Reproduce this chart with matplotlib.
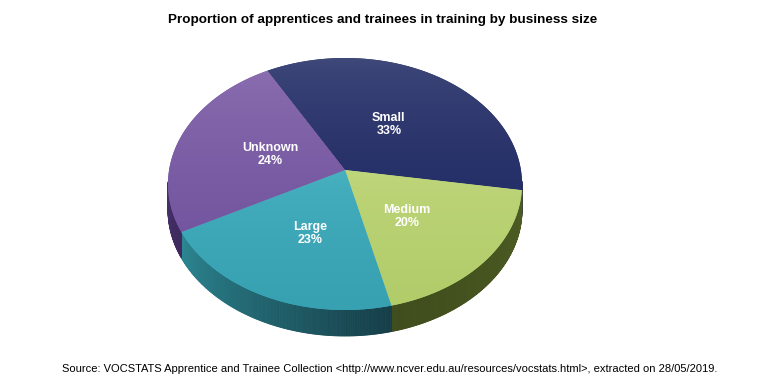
import numpy as np
import matplotlib
matplotlib.use("Agg")
import matplotlib.pyplot as plt
from matplotlib.patches import Polygon
from matplotlib.colors import to_rgb

# ---- data ----
categories = ["Small", "Medium", "Large", "Unknown"]
values = [33, 20, 23, 24]
title = "Proportion of apprentices and trainees in training by business size"
source = ("Source: VOCSTATS Apprentice and Trainee Collection "
          "<http://www.ncver.edu.au/resources/vocstats.html>, extracted on 28/05/2019.")

# ---- style ----
top_light = ["#414b7b", "#c0d77c", "#48b2c1", "#8d70b1"]
top_dark = ["#252f68", "#b2cc6a", "#37a1b2", "#7456a0"]
side_a = ["#1e2550", "#4d5d24", "#143d47", "#3e2a5e"]
side_b = ["#2a3160", "#3f4c1c", "#2c8691", "#5a3f82"]

plt.rcParams['font.family'] = ['Liberation Sans', 'DejaVu Sans']

fig = plt.figure(figsize=(7.7, 3.91), dpi=100)
ax = fig.add_axes([0, 0, 1, 1])
ax.set_xlim(0, 770)
ax.set_ylim(391, 0)
ax.axis('off')

cx, cy, a, b = 345.0, 184.0, 177.0, 126.0
apex = (345.0, 170.0)
depth = 26.0
start = 116.0


def rim(theta_deg, dy=0.0):
    t = np.radians(theta_deg)
    return cx + a * np.cos(t), cy - b * np.sin(t) + dy


def mix(c1, c2, w):
    c1, c2 = np.array(to_rgb(c1)), np.array(to_rgb(c2))
    return tuple(c1 * (1 - w) + c2 * w)


total = float(sum(values))
bounds = []
ang = start
for v in values:
    sweep = 360.0 * v / total
    bounds.append((ang, ang - sweep))
    ang -= sweep

# side walls (front half only)
for i, (t0, t1) in enumerate(bounds):
    ts = np.linspace(t0, t1, 200)
    for j in range(len(ts) - 1):
        ta, tb = ts[j], ts[j + 1]
        tm = 0.5 * (ta + tb)
        if np.sin(np.radians(tm)) >= 0.02:
            continue
        w = (t0 - tm) / (t0 - t1)
        col = mix(side_a[i], side_b[i], w)
        xa, ya = rim(ta)
        xb, yb = rim(tb)
        quad = [(xa, ya), (xb, yb), (xb, yb + depth), (xa, ya + depth)]
        ax.add_patch(Polygon(quad, closed=True, facecolor=col, edgecolor=col,
                             linewidth=0.6, zorder=1))

# top faces with vertical gradient
for i, (t0, t1) in enumerate(bounds):
    ts = np.linspace(t0, t1, 200)
    pts = [apex] + [rim(t) for t in ts]
    ys = [p[1] for p in pts]
    poly = Polygon(pts, closed=True, facecolor=top_dark[i], edgecolor='none', zorder=2)
    ax.add_patch(poly)
    n = 256
    c1 = np.array(to_rgb(top_light[i]))
    c2 = np.array(to_rgb(top_dark[i]))
    w = np.linspace(0, 1, n)[:, None] ** 0.6
    grad = (c1 * (1 - w) + c2 * w)[:, None, :]
    im = ax.imshow(grad, extent=(cx - a, cx + a, max(ys), min(ys)), origin='upper',
                   aspect='auto', zorder=3, interpolation='bilinear')
    im.set_clip_path(poly)

ax.set_xlim(0, 770)
ax.set_ylim(391, 0)

# labels
for i, (t0, t1) in enumerate(bounds):
    tm = 0.5 * (t0 + t1)
    rx, ry = rim(tm)
    lx = apex[0] + 0.45 * (rx - apex[0])
    ly = apex[1] + 0.5 * (ry - apex[1])
    ax.text(lx, ly, f"{categories[i]}\n{values[i]}%", color='white',
            fontsize=9, fontweight='bold', ha='center', va='center',
            linespacing=1.15, zorder=5)

ax.text(383, 20, title, fontsize=9.7, fontweight='bold', ha='center', va='center',
        color='black')
ax.text(62, 369, source, fontsize=8.0, ha='left', va='center', color='black')

fig.savefig("out.png", dpi=100)
